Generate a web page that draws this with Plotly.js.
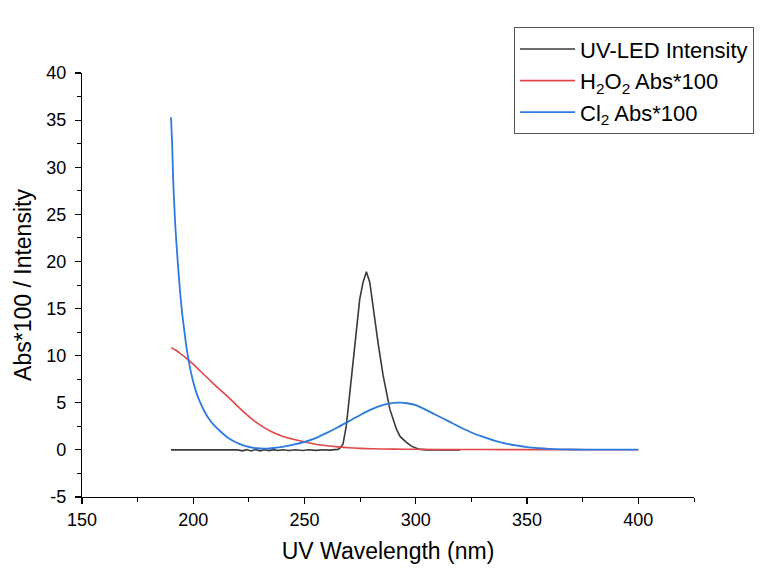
<!DOCTYPE html>
<html>
<head>
<meta charset="utf-8">
<script src="https://cdn.plot.ly/plotly-3.0.1.min.js"></script>
<style>
html,body{margin:0;padding:0;background:#fff;}
#chart{width:782px;height:570px;}
</style>
</head>
<body>
<div id="chart"></div>
<script>
// UV-LED intensity
const ledX = [190, 200, 210, 220, 222, 224, 226, 228, 230, 232, 234, 236, 238, 240, 243, 246, 249, 252, 255, 258, 261, 263, 265, 266, 267.3, 268.8, 270.3, 271.8, 273.3, 274.8, 276.3, 277.8, 279.3, 280.8, 283, 285.3, 288.3, 291.3, 293, 295.8, 298, 300.3, 302, 305, 320];
const ledY = [0, 0, 0, 0, -0.1, 0.03, -0.12, 0.04, -0.1, 0.02, -0.08, 0.03, -0.07, 0.02, -0.07, 0.02, -0.06, 0.02, -0.05, 0.02, -0.03, 0.02, 0.05, 0.2, 0.64, 2.6, 6.1, 9.66, 13.2, 16.0, 17.8, 18.9, 17.8, 15.0, 11.4, 7.9, 4.35, 2.2, 1.4, 0.8, 0.4, 0.18, 0.05, 0, 0];

// H2O2 absorbance * 100
const h2o2X = [190, 192, 194, 196, 198, 200, 203, 207, 211, 215, 219, 223, 227, 231, 235, 240, 245, 250, 255, 260, 265, 270, 275, 280, 290, 300, 320, 340, 360, 380, 400];
const h2o2Y = [10.85, 10.6, 10.25, 9.9, 9.5, 9.1, 8.4, 7.5, 6.6, 5.75, 4.85, 3.95, 3.15, 2.5, 1.95, 1.45, 1.12, 0.85, 0.6, 0.44, 0.32, 0.22, 0.16, 0.12, 0.08, 0.06, 0.04, 0.03, 0.03, 0.02, 0.02];

// Cl2 absorbance * 100
const cl2X = [190, 190.5, 191, 191.5, 192, 193, 194, 195, 196, 197, 198, 199, 200, 201.5, 203, 205, 207, 209, 212, 215, 218, 221, 224, 227, 230, 233, 236, 240, 245, 250, 255, 260, 265, 270, 275, 280, 285, 290, 293, 296, 300, 305, 310, 315, 320, 325, 330, 335, 340, 345, 350, 355, 360, 365, 370, 380, 390, 400];
const cl2Y = [35.3, 32.5, 28.5, 25.8, 23.5, 20.0, 17.0, 14.5, 12.6, 10.8, 9.4, 8.2, 7.2, 6.0, 5.1, 4.1, 3.3, 2.7, 2.0, 1.4, 0.95, 0.62, 0.38, 0.22, 0.15, 0.14, 0.2, 0.32, 0.55, 0.85, 1.25, 1.8, 2.4, 3.05, 3.7, 4.3, 4.75, 4.98, 5.02, 4.95, 4.75, 4.2, 3.6, 3.0, 2.4, 1.85, 1.4, 1.0, 0.7, 0.47, 0.3, 0.19, 0.11, 0.06, 0.04, 0.02, 0.02, 0.02];

const seriesNames = ['UV-LED Intensity', 'H<sub>2</sub>O<sub>2</sub> Abs*100', 'Cl<sub>2</sub> Abs*100'];

// Tick labels
const xTickVals = [150, 200, 250, 300, 350, 400];
const xTickText = ['150', '200', '250', '300', '350', '400'];
const yTickVals = [-5, 0, 5, 10, 15, 20, 25, 30, 35, 40];
const yTickText = ['-5', '0', '5', '10', '15', '20', '25', '30', '35', '40'];

const FONT = 'Liberation Sans, Arial, sans-serif';

const traces = [
  {x: ledX, y: ledY, name: seriesNames[0], mode: 'lines', line: {color: '#3a3a3a', width: 1.6}},
  {x: h2o2X, y: h2o2Y, name: seriesNames[1], mode: 'lines', line: {color: '#e04848', width: 1.6, shape: 'spline', smoothing: 0.6}},
  {x: cl2X, y: cl2Y, name: seriesNames[2], mode: 'lines', line: {color: '#2c7be0', width: 1.8, shape: 'spline', smoothing: 0.6}}
];

const layout = {
  width: 782, height: 570,
  margin: {l: 82, r: 88, t: 73, b: 73},
  paper_bgcolor: '#fff', plot_bgcolor: '#fff',
  font: {family: FONT, color: '#000', size: 18},
  showlegend: true,
  legend: {
    x: 0.706, y: 1.108, xanchor: 'left', yanchor: 'top',
    bgcolor: '#fff', bordercolor: '#555', borderwidth: 1,
    font: {family: FONT, size: 22, color: '#000'},
    itemwidth: 55,
    tracegroupgap: 0
  },
  xaxis: {
    range: [150, 425], tickmode: 'array', tickvals: xTickVals, ticktext: xTickText,
    showgrid: false, zeroline: false,
    showline: true, linecolor: '#000', linewidth: 1.2,
    ticks: 'outside', ticklen: 6, tickwidth: 1.2, tickcolor: '#000',
    minor: {dtick: 25, tick0: 150, ticks: 'outside', ticklen: 4, tickcolor: '#000', tickwidth: 1},
    tickfont: {family: FONT, size: 18, color: '#000'},
    title: {text: 'UV Wavelength (nm)', font: {family: FONT, size: 23, color: '#000'}, standoff: 14}
  },
  yaxis: {
    range: [-5, 40], tickmode: 'array', tickvals: yTickVals, ticktext: yTickText,
    showgrid: false, zeroline: false,
    showline: true, linecolor: '#000', linewidth: 1.2,
    ticks: 'outside', ticklen: 6, tickwidth: 1.2, tickcolor: '#000',
    ticklabelstandoff: 5,
    minor: {dtick: 2.5, tick0: -5, ticks: 'outside', ticklen: 4, tickcolor: '#000', tickwidth: 1},
    tickfont: {family: FONT, size: 18, color: '#000'},
    title: {text: 'Abs*100 / Intensity', font: {family: FONT, size: 23, color: '#000'}, standoff: 8}
  }
};

Plotly.newPlot('chart', traces, layout, {displayModeBar: false, staticPlot: true});
</script>
</body>
</html>
